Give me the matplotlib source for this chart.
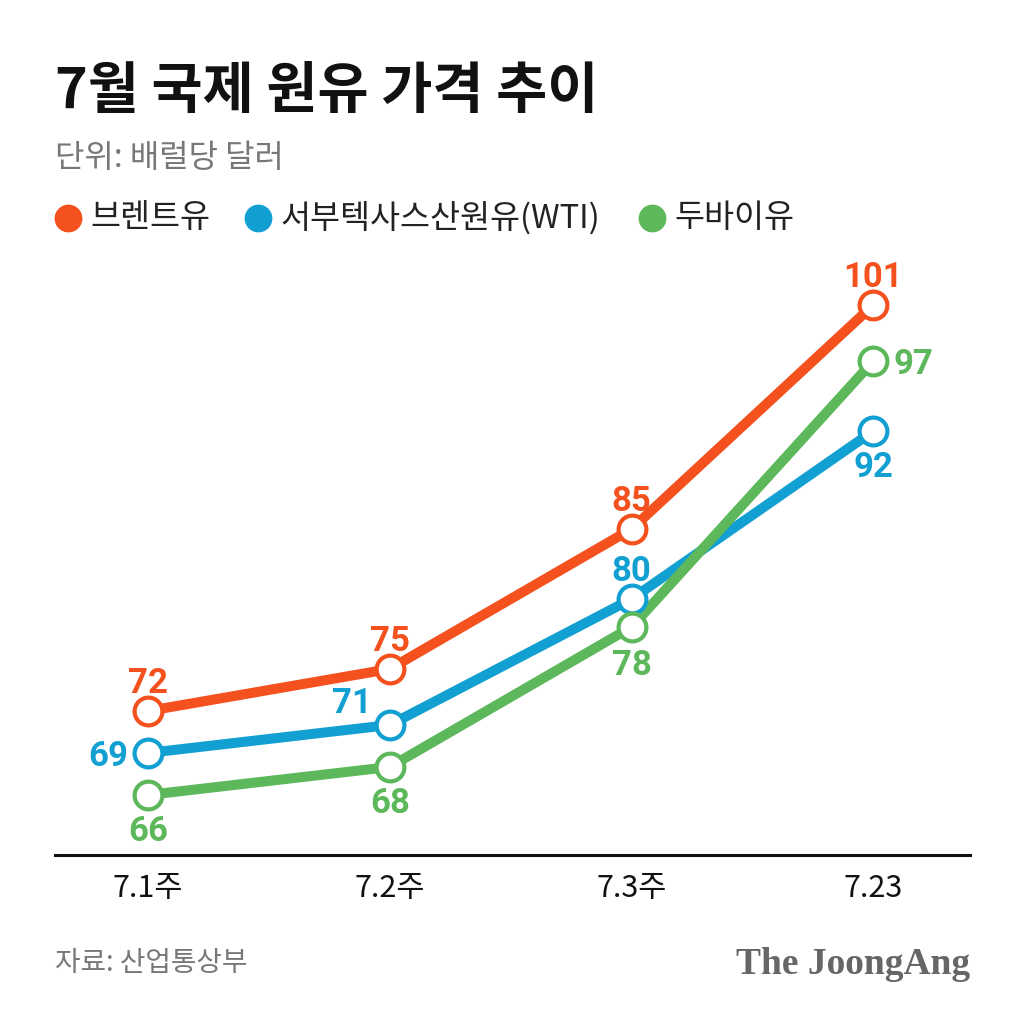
import matplotlib
matplotlib.use("Agg")
import matplotlib.pyplot as plt
from matplotlib.lines import Line2D

plt.rcParams["font.family"] = ["Noto Sans CJK KR", "DejaVu Sans"]

weeks = ["7.1주", "7.2주", "7.3주", "7.23"]
brent = [72, 75, 85, 101]
wti = [69, 71, 80, 92]
dubai = [66, 68, 78, 97]
names = ["브렌트유", "서부텍사스산원유(WTI)", "두바이유"]

ORANGE = "#F4511E"
BLUE = "#12A0D2"
GREEN = "#5DB85B"

fig = plt.figure(figsize=(10.24, 10.24), dpi=100)
# axes bottom = baseline line, x from 55 to 970 px
ax = fig.add_axes([55 / 1024, 1 - 855 / 1024, 915 / 1024, 605 / 1024])
x = range(len(weeks))

series = [(brent, ORANGE), (wti, BLUE), (dubai, GREEN)]
for vals, col in series:
    ax.plot(x, vals, color=col, lw=7.2, solid_capstyle="round", zorder=2)
    ax.plot(x, vals, ls="none", marker="o", ms=20, mfc="white", mec=col, mew=3, zorder=3)

# label placement in pixels: (dx, dy, ha, va)
UP = (0, 18, "center", "baseline")
DOWN = (0, -20, "center", "top")
pos = {
    0: [UP, UP, UP, UP],
    1: [(-20, 0, "right", "center_baseline"), (-18, 21, "right", "center"), UP, DOWN],
    2: [DOWN, DOWN, (0, -22, "center", "top"), (20, 0, "left", "center_baseline")],
}
for i, (vals, col) in enumerate(series):
    for j, v in enumerate(vals):
        dx, dy, ha, va = pos[i][j]
        ax.annotate(str(v), (j, v), xytext=(dx, dy), textcoords="offset pixels",
                    ha=ha, va=va, fontsize=25, fontweight="bold", color=col,
                    family=["Roboto", "DejaVu Sans"])

ax.set_xlim(-0.385, 3.40)
ax.set_ylim(61.71, 104.93)
for s in ["top", "right", "left"]:
    ax.spines[s].set_visible(False)
ax.spines["bottom"].set_linewidth(2.2)
ax.spines["bottom"].set_color("#111111")
ax.set_yticks([])
ax.set_xticks(list(x))
ax.set_xticklabels(weeks, fontsize=22, color="#111111", fontweight="medium")
ax.tick_params(axis="x", length=0, pad=13)

fig.text(55 / 1024, 1 - 92 / 1024, "7월 국제 원유 가격 추이", fontsize=40,
         fontweight=900, va="center", ha="left", color="#111111")
fig.text(55 / 1024, 1 - 158 / 1024, "단위: 배럴당 달러", fontsize=23,
         va="center", ha="left", color="#777777")

# legend row
lx = [68, 258, 652]
for (nm, (_, col), px) in zip(names, series, lx):
    fig.add_artist(Line2D([px / 1024], [1 - 218 / 1024], marker="o", ms=19,
                          color=col, transform=fig.transFigure))
    fig.text((px + 22) / 1024, 1 - 218 / 1024, nm, fontsize=23.5, va="center",
             ha="left", color="#222222")

fig.text(55 / 1024, 1 - 963 / 1024, "자료: 산업통상부", fontsize=20,
         va="center", ha="left", color="#777777")
fig.text(970 / 1024, 1 - 965 / 1024, "The JoongAng", fontsize=27,
         fontweight="bold", va="center", ha="right", color="#666666",
         family=["Liberation Serif", "DejaVu Serif"])

fig.savefig("out.png", dpi=100, facecolor="white")
